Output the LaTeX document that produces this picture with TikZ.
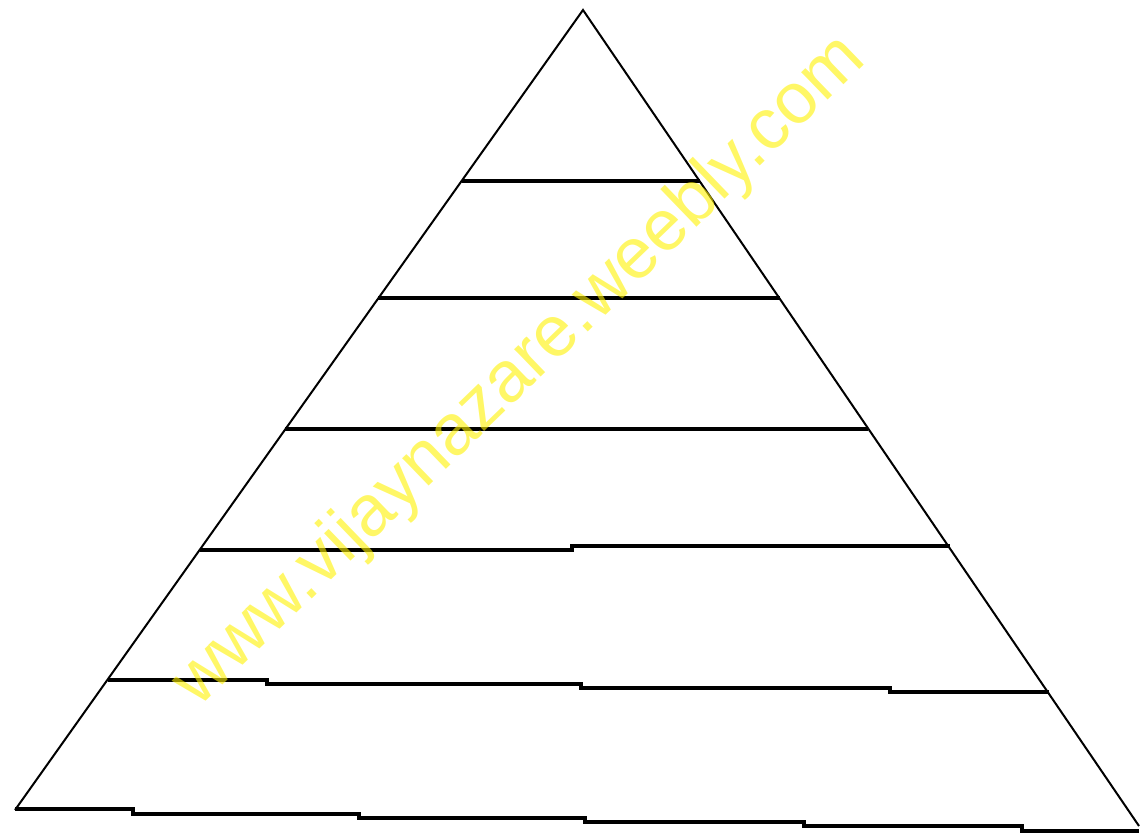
\documentclass[tikz,border=0pt]{standalone}
\usepackage{fontspec}
\newfontfamily\wmfont{Liberation Sans}

\begin{document}
\begin{tikzpicture}[x=1pt, y=-1pt,
    side/.style={line width=2pt},
    tier/.style={line width=4pt, line join=miter},
    watermark/.style={text=yellow, text opacity=0.6, font=\wmfont\fontsize{72}{72}\selectfont, rotate=44}]
  \useasboundingbox (0,0) rectangle (1140,834);

  % Sides of the pyramid
  \coordinate (apex) at (583,10);
  \coordinate (bl) at (15,810);
  \coordinate (br) at (1139,826);
  \draw[side] (bl) -- (apex) -- (br);

  % Tiers, top to bottom
  \draw[tier] (462,181) -- (700,181);
  \draw[tier] (378,298) -- (780,298);
  \draw[tier] (285,429) -- (868,429);
  \draw[tier] (200,550) -- (572,550) -- (572,546) -- (950,546);
  \draw[tier] (108,680) -- (267,680) -- (267,684) -- (581,684)
    -- (581,688) -- (890,688) -- (890,692) -- (1049,692);

  % Base, drawn in steps
  \draw[tier] (15,809) -- (133,809) -- (133,814) -- (359,814) -- (359,818)
    -- (585,818) -- (585,822) -- (804,822) -- (804,826) -- (1022,826)
    -- (1022,831) -- (1139,831);

  % Watermark
  \node[watermark] (wm) at (520,372) {www.vijaynazare.weebly.com};
\end{tikzpicture}
\end{document}
